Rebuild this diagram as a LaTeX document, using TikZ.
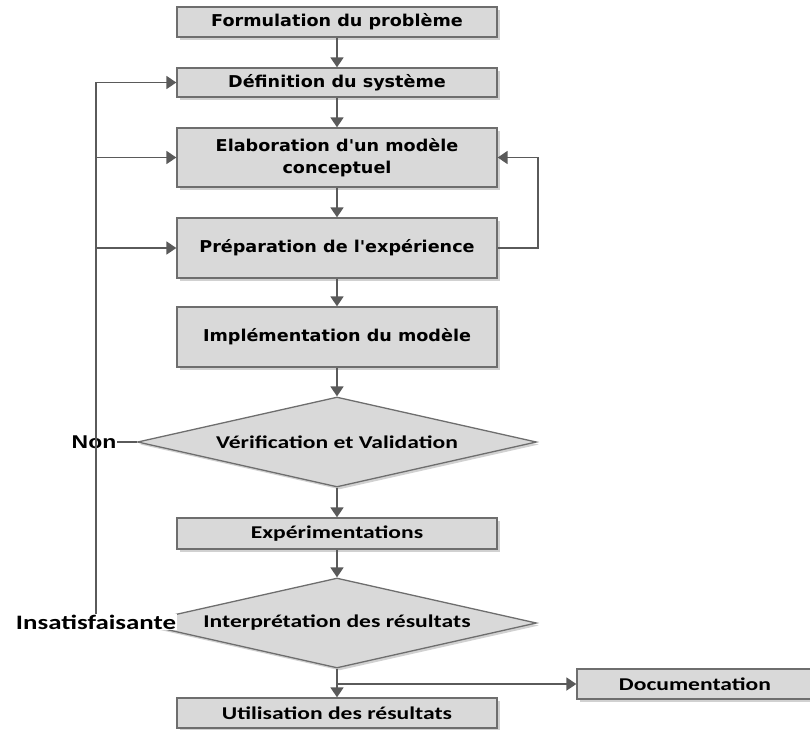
\documentclass[tikz,border=0pt]{standalone}
\usepackage{fontspec}
\usetikzlibrary{arrows.meta,shapes.geometric,shadows}
\newfontfamily\vfont[FakeStretch=1.08]{DejaVu Sans}
\newfontfamily\cfont[FakeStretch=1.31]{Carlito}
\newfontfamily\afont[FakeStretch=1.24]{Liberation Sans}
\definecolor{boxfill}{HTML}{D9D9D9}
\definecolor{bordergray}{HTML}{6E6E6E}
\definecolor{linegray}{HTML}{5A5A5A}
\tikzset{
  shad/.style={drop shadow={shadow xshift=2.5pt,shadow yshift=-2.5pt,fill=black,opacity=0.18}},
  vbox/.style={shape=rectangle,draw=bordergray,line width=1.3pt,fill=boxfill,minimum width=320pt,inner sep=0pt,align=center,font=\vfont\bfseries\fontsize{16.3}{22}\selectfont,text=black,shad},
  cbox/.style={vbox,font=\cfont\bfseries\fontsize{18}{22}\selectfont},
  dec/.style={shape=diamond,draw=bordergray,line width=1.3pt,fill=boxfill,minimum width=399pt,minimum height=90pt,inner sep=0pt,shad},
  dectext/.style={label={[font=\cfont\bfseries\fontsize{18}{22}\selectfont,text=black,inner sep=0pt]center:#1}},
  conn/.style={draw=linegray,line width=1.8pt},
  arr/.style={conn,-{Triangle[width=13pt,length=10pt]}},
  lbl/.style={text=black,inner sep=1pt}
}
\begin{document}
\begin{tikzpicture}[x=1pt,y=-1pt]
\useasboundingbox (0,0) rectangle (810,729);
\node[vbox,minimum height=30pt] (b1) at (337,22) {Formulation du problème};
\node[vbox,minimum height=29pt] (b2) at (337,82.5) {Définition du système};
\node[vbox,minimum height=59pt] (b3) at (337,157.5) {Elaboration d'un modèle\\conceptuel};
\node[vbox,minimum height=60pt] (b4) at (337,248) {Préparation de l'expérience};
\node[vbox,minimum height=60pt] (b5) at (337,337) {Implémentation du modèle};
\node[dec,dectext={Vérification et Validation}] (d1) at (337,442) {};
\node[cbox,minimum height=31pt] (b6) at (337,533.5) {Expérimentations};
\node[dec,dectext={Interprétation des résultats}] (d2) at (337,623) {};
\node[cbox,minimum height=30pt] (b7) at (337,713) {Utilisation des résultats};
\node[cbox,minimum width=236pt,minimum height=30pt] (b8) at (695,684) {Documentation};
\node[lbl,font=\afont\bfseries\fontsize{18.5}{20}\selectfont] (non) at (94,442) {Non};
\node[lbl,fill=white,font=\cfont\bfseries\fontsize{20.5}{22}\selectfont] (ins) at (96,622) {Insatisfaisante};
\coordinate (rc) at (538,248);
% main flow
\draw[arr] (b1) -- (b2);
\draw[arr] (b2) -- (b3);
\draw[arr] (b3) -- (b4);
\draw[arr] (b4) -- (b5);
\draw[arr] (b5) -- (d1);
\draw[arr] (d1) -- (b6);
\draw[arr] (b6) -- (d2);
\draw[arr] (d2) -- (b7);
\draw[arr] (d2.south |- b8.west) -- (b8.west);
% right loop
\draw[arr] (b4.east) -- (rc) |- (b3.east);
% left feedback
\draw[arr] (ins.north) |- (b2.west);
\draw[arr] (ins.north |- b3.west) -- (b3.west);
\draw[arr] (ins.north |- b4.west) -- (b4.west);
\draw[conn] (non.east) -- (d1.west);
\end{tikzpicture}
\end{document}
